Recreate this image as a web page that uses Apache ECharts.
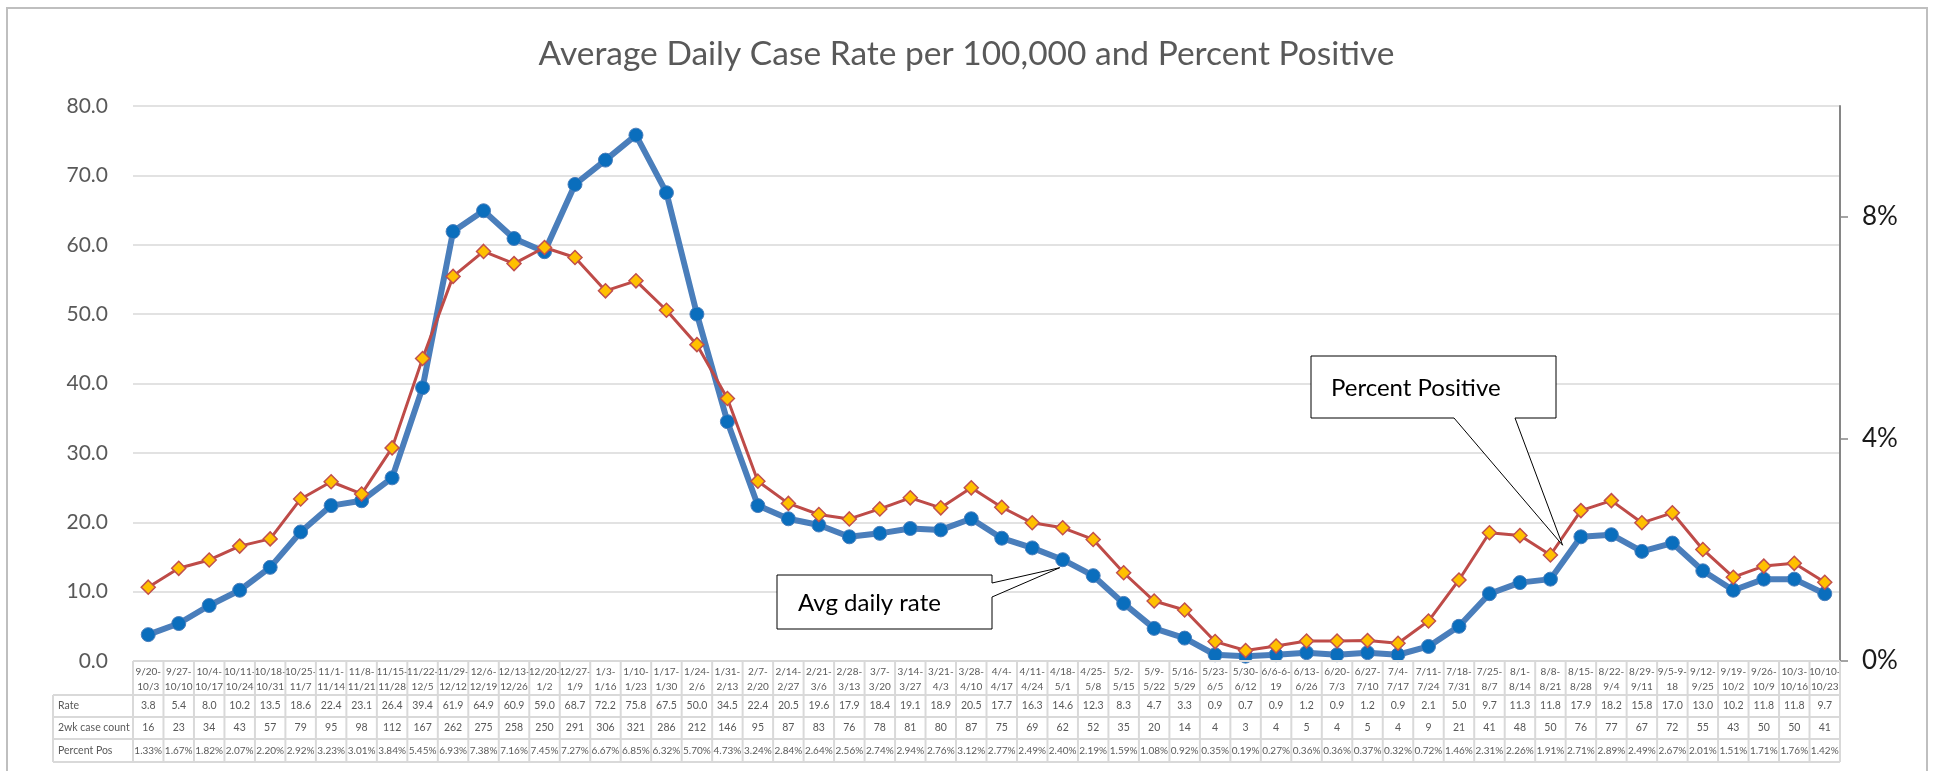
<!DOCTYPE html>
<html><head><meta charset="utf-8">
<script src="https://cdn.jsdelivr.net/npm/echarts@6/dist/echarts.min.js"></script>
<style>html,body{margin:0;padding:0;background:#fff}#c{width:1933px;height:771px}</style>
</head><body><div id="c"></div>
<script>
const categories = ['9/20-\n10/3','9/27-\n10/10','10/4-\n10/17','10/11-\n10/24','10/18-\n10/31','10/25-\n11/7','11/1-\n11/14','11/8-\n11/21','11/15-\n11/28','11/22-\n12/5','11/29-\n12/12','12/6-\n12/19','12/13-\n12/26','12/20-\n1/2','12/27-\n1/9','1/3-\n1/16','1/10-\n1/23','1/17-\n1/30','1/24-\n2/6','1/31-\n2/13','2/7-\n2/20','2/14-\n2/27','2/21-\n3/6','2/28-\n3/13','3/7-\n3/20','3/14-\n3/27','3/21-\n4/3','3/28-\n4/10','4/4-\n4/17','4/11-\n4/24','4/18-\n5/1','4/25-\n5/8','5/2-\n5/15','5/9-\n5/22','5/16-\n5/29','5/23-\n6/5','5/30-\n6/12','6/6-6-\n19','6/13-\n6/26','6/20-\n7/3','6/27-\n7/10','7/4-\n7/17','7/11-\n7/24','7/18-\n7/31','7/25-\n8/7','8/1-\n8/14','8/8-\n8/21','8/15-\n8/28','8/22-\n9/4','8/29-\n9/11','9/5-9-\n18','9/12-\n9/25','9/19-\n10/2','9/26-\n10/9','10/3-\n10/16','10/10-\n10/23'];
const rate = [3.8,5.4,8.0,10.2,13.5,18.6,22.4,23.1,26.4,39.4,61.9,64.9,60.9,59.0,68.7,72.2,75.8,67.5,50.0,34.5,22.4,20.5,19.6,17.9,18.4,19.1,18.9,20.5,17.7,16.3,14.6,12.3,8.3,4.7,3.3,0.9,0.7,0.9,1.2,0.9,1.2,0.9,2.1,5.0,9.7,11.3,11.8,17.9,18.2,15.8,17.0,13.0,10.2,11.8,11.8,9.7];
const caseCount = [16,23,34,43,57,79,95,98,112,167,262,275,258,250,291,306,321,286,212,146,95,87,83,76,78,81,80,87,75,69,62,52,35,20,14,4,3,4,5,4,5,4,9,21,41,48,50,76,77,67,72,55,43,50,50,41];
const pctPos = [1.33,1.67,1.82,2.07,2.20,2.92,3.23,3.01,3.84,5.45,6.93,7.38,7.16,7.45,7.27,6.67,6.85,6.32,5.70,4.73,3.24,2.84,2.64,2.56,2.74,2.94,2.76,3.12,2.77,2.49,2.40,2.19,1.59,1.08,0.92,0.35,0.19,0.27,0.36,0.36,0.37,0.32,0.72,1.46,2.31,2.26,1.91,2.71,2.89,2.49,2.67,2.01,1.51,1.71,1.76,1.42];
const leftTicks = [0,10,20,30,40,50,60,70,80];
const rightTicks = [0,4,8];
const rowLabels = ['Rate','2wk case count','Percent Pos'];
const titleText = 'Average Daily Case Rate per 100,000 and Percent Positive';

const FONT = 'Lato, "Open Sans", sans-serif';
const GRAY = '#595959';
const chart = echarts.init(document.getElementById('c'));
chart.setOption({
  animation: false,
  title: {text: titleText, left: 'center', top: 32,
    textStyle: {fontFamily: FONT, fontWeight: 'normal', fontSize: 33.5, color: GRAY}},
  grid: {left: 133, right: 93, top: 106, bottom: 110},
  xAxis: {type: 'category', data: categories, boundaryGap: true,
    axisLine: {show: false}, axisTick: {show: false},
    axisLabel: {interval: 0, margin: 3, fontSize: 10, lineHeight: 15, color: GRAY, fontFamily: FONT}},
  yAxis: [
    {type: 'value', min: 0, max: 80, interval: 10,
      axisLine: {show: false}, axisTick: {show: false},
      axisLabel: {formatter: v => v.toFixed(1), fontSize: 21, color: GRAY, fontFamily: FONT, margin: 25},
      splitLine: {lineStyle: {color: '#d9d9d9', width: 1.5}}},
    {type: 'value', position: 'right', min: 0, max: 10, interval: 4,
      axisLine: {show: true, lineStyle: {color: '#868686', width: 2}},
      axisTick: {show: true, length: 8, customValues: rightTicks, lineStyle: {color: '#868686', width: 1.5}},
      axisLabel: {customValues: rightTicks, formatter: v => v + '%', fontSize: 26, color: '#1a1a1a', fontFamily: FONT, margin: 22},
      splitLine: {show: false}}
  ],
  series: [
    {name: 'Avg daily rate', type: 'line', data: rate, yAxisIndex: 0,
      symbol: 'circle', symbolSize: 14, z: 2,
      lineStyle: {width: 6, color: '#4a7ebb'},
      itemStyle: {color: '#0a6ebd', borderColor: '#4a7ebb', borderWidth: 1}},
    {name: 'Percent Positive', type: 'line', data: pctPos, yAxisIndex: 1,
      symbol: 'diamond', symbolSize: 14, z: 3,
      lineStyle: {width: 3, color: '#be4b48'},
      itemStyle: {color: '#ffc000', borderColor: '#c0504d', borderWidth: 1.5}}
  ]
});

// table + callouts built from axis positions
const g = [];
const BC = '#d9d9d9';
const n = categories.length;
const y0 = chart.convertToPixel({yAxisIndex: 0}, 0);
const xL = chart.convertToPixel({xAxisIndex: 0}, 0);
const xR = chart.convertToPixel({xAxisIndex: 0}, n - 1);
const w = (xR - xL) / (n - 1);
const colLeft = xL - w / 2, colRight = xR + w / 2;
const labelLeft = 53;
const rowsY = [y0, y0 + 34, y0 + 56, y0 + 78, y0 + 101];
const line = (x1, y1, x2, y2) => g.push({type: 'line', silent: true, z: 50,
  shape: {x1, y1, x2, y2}, style: {stroke: BC, lineWidth: 2}});
line(colLeft, rowsY[0], colRight, rowsY[0]);
for (let r = 1; r < rowsY.length; r++) line(labelLeft, rowsY[r], colRight, rowsY[r]);
for (let i = 0; i <= n; i++) line(colLeft + i * w, rowsY[0], colLeft + i * w, rowsY[4]);
line(labelLeft, rowsY[1], labelLeft, rowsY[4]);
const rows = [rate.map(v => v.toFixed(1)), caseCount.map(String), pctPos.map(v => v.toFixed(2) + '%')];
rows.forEach((vals, r) => {
  const cy = (rowsY[r + 1] + rowsY[r + 2]) / 2;
  g.push({type: 'text', silent: true, z: 51, x: labelLeft + 5, y: cy,
    style: {text: rowLabels[r], font: '10.5px ' + FONT, fill: GRAY, verticalAlign: 'middle', align: 'left'}});
  vals.forEach((t, i) => {
    g.push({type: 'text', silent: true, z: 51, x: chart.convertToPixel({xAxisIndex: 0}, i), y: cy,
      style: {text: t, font: (r === 2 ? '10px ' : '10.5px ') + FONT, fill: GRAY, verticalAlign: 'middle', align: 'center'}});
  });
});
// outer border
g.push({type: 'rect', silent: true, z: -10, shape: {x: 7, y: 8, width: 1920, height: 790},
  style: {fill: 'none', stroke: '#bfbfbf', lineWidth: 2}});
// callout: Avg daily rate
const pA = chart.convertToPixel({seriesIndex: 0}, [30, rate[30]]);
const tipA = [pA[0] - 3, pA[1] + 8];
g.push({type: 'polygon', silent: true, z: 100,
  shape: {points: [[777, 575], [992, 575], [992, 583], tipA, [992, 597], [992, 629], [777, 629]]},
  style: {fill: '#fff', stroke: '#000', lineWidth: 1}});
g.push({type: 'text', silent: true, z: 101, x: 798, y: 603,
  style: {text: 'Avg daily rate', font: '24px ' + FONT, fill: '#000', verticalAlign: 'middle'}});
// callout: Percent Positive
const p1 = chart.convertToPixel({seriesIndex: 1}, [46, pctPos[46]]);
const p2 = chart.convertToPixel({seriesIndex: 1}, [47, pctPos[47]]);
const tipP = [p1[0] + (p2[0] - p1[0]) * 0.4, p1[1] + (p2[1] - p1[1]) * 0.4 + 8];
g.push({type: 'polygon', silent: true, z: 100,
  shape: {points: [[1311, 356], [1556, 356], [1556, 418], [1515, 418], tipP, [1454, 418], [1311, 418]]},
  style: {fill: '#fff', stroke: '#000', lineWidth: 1}});
g.push({type: 'text', silent: true, z: 101, x: 1331, y: 388,
  style: {text: 'Percent Positive', font: '24px ' + FONT, fill: '#000', verticalAlign: 'middle'}});
chart.setOption({graphic: g});
</script></body></html>
